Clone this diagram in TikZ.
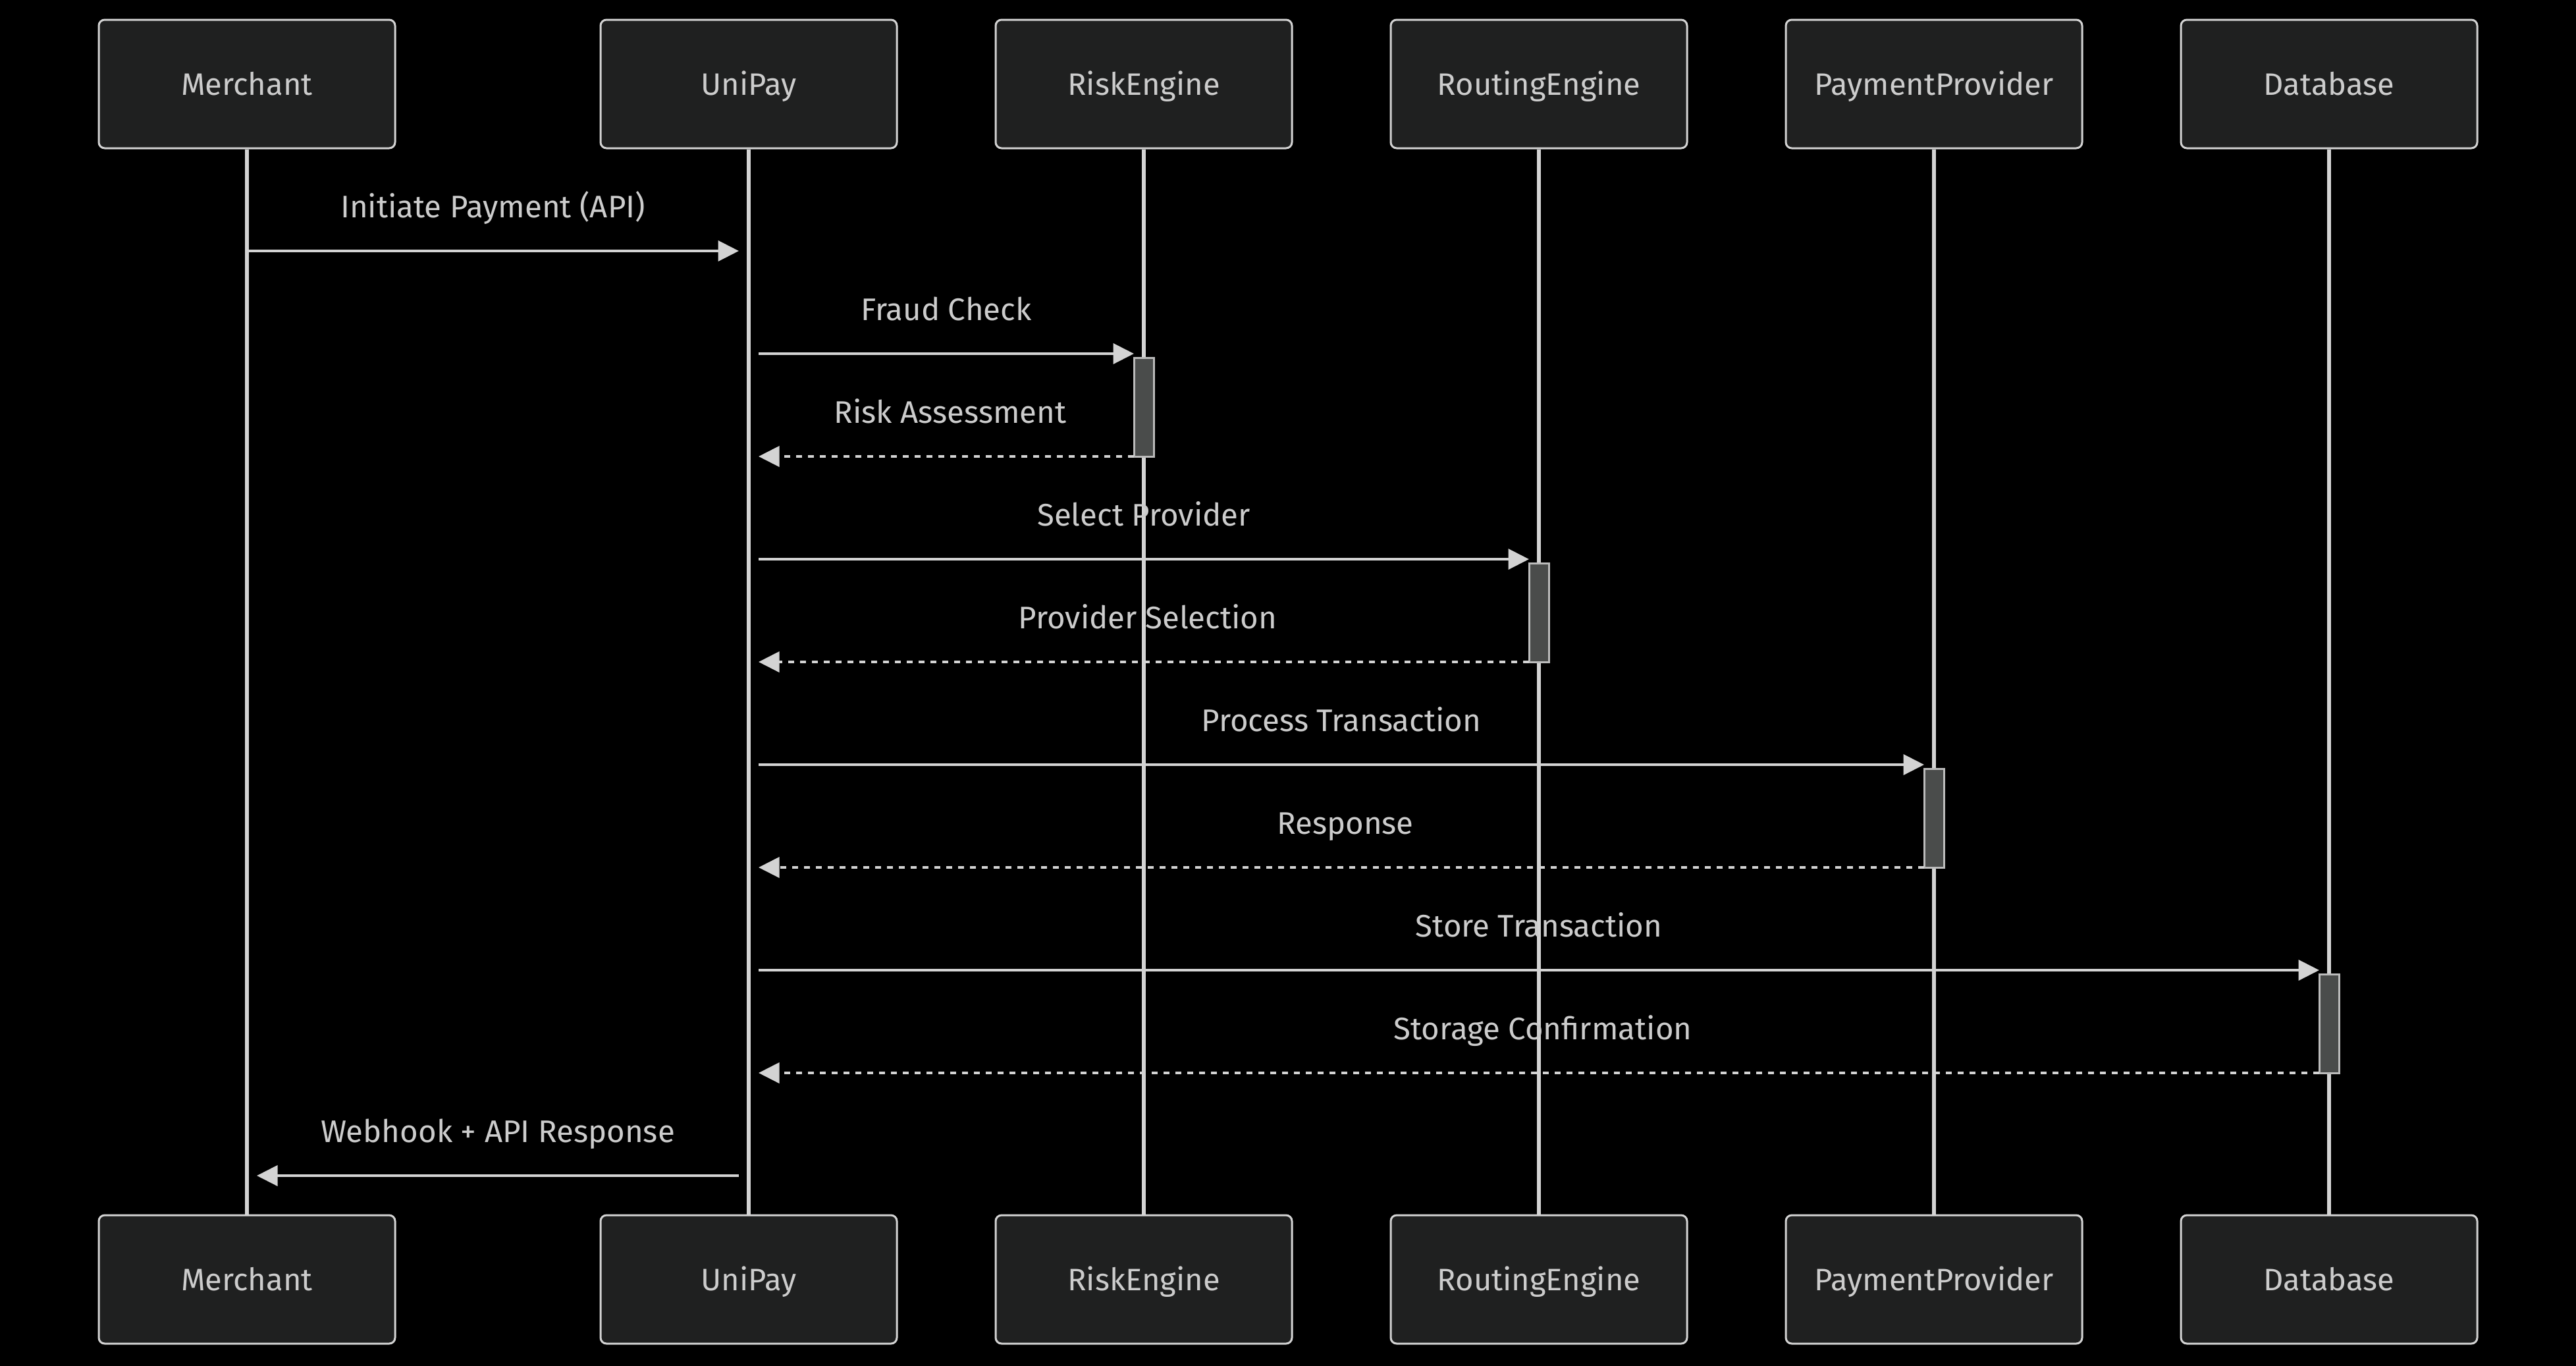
\documentclass[tikz,border=0pt]{standalone}
\usepackage{fontspec}
\setmainfont{Fira Sans}
\usetikzlibrary{arrows.meta}
\definecolor{bgcol}{HTML}{000000}
\definecolor{actorfill}{HTML}{1F2020}
\definecolor{linecol}{HTML}{D3D3D3}
\definecolor{textcol}{HTML}{CCCCCC}
\definecolor{actfill}{HTML}{4A4C4B}
\definecolor{actline}{HTML}{BBBBBB}
\tikzset{
  actorbox/.style={draw=linecol, line width=1pt, fill=actorfill, rounded corners=3pt,
    minimum width=150pt, minimum height=65pt, inner sep=0pt, text=textcol,
    font=\fontsize{15.7}{18}\selectfont, text height=11.6pt, text depth=0pt},
  lifeline/.style={draw=linecol, line width=1.7pt},
  msgline/.style={draw=linecol, line width=1.4pt, -{Triangle[length=10.5pt,width=10.3pt]}},
  replyline/.style={msgline, dash pattern=on 3pt off 3pt},
  msglabel/.style={text=textcol, font=\fontsize{15.8}{18}\selectfont, anchor=base,
    yshift=16.7pt, inner sep=0pt},
  activation/.style={draw=actline, line width=1pt, fill=actfill, minimum width=10pt,
    minimum height=50pt, inner sep=0pt}
}
\begin{document}
\begin{tikzpicture}[x=1pt, y=-1pt]
\useasboundingbox (0,0) rectangle (1304,691);
\fill[bgcol] (-4,-4) rectangle (1308,695);

% actors top
\node[actorbox] (merT) at (125,42.5) {Merchant};
\node[actorbox] (uniT) at (379,42.5) {UniPay};
\node[actorbox] (rskT) at (579,42.5) {RiskEngine};
\node[actorbox] (rteT) at (779,42.5) {RoutingEngine};
\node[actorbox] (ppT)  at (979,42.5) {PaymentProvider};
\node[actorbox] (dbT)  at (1179,42.5) {Database};
% actors bottom
\node[actorbox] (merB) at (125,647.5) {Merchant};
\node[actorbox] (uniB) at (379,647.5) {UniPay};
\node[actorbox] (rskB) at (579,647.5) {RiskEngine};
\node[actorbox] (rteB) at (779,647.5) {RoutingEngine};
\node[actorbox] (ppB)  at (979,647.5) {PaymentProvider};
\node[actorbox] (dbB)  at (1179,647.5) {Database};

% lifelines
\draw[lifeline] (merT.south) -- (merB.north);
\draw[lifeline] (uniT.south) -- (uniB.north);
\draw[lifeline] (rskT.south) -- (rskB.north);
\draw[lifeline] (rteT.south) -- (rteB.north);
\draw[lifeline] (ppT.south) -- (ppB.north);
\draw[lifeline] (dbT.south) -- (dbB.north);

% activations
\node[activation] (actR) at (579,206) {};
\node[activation] (actRt) at (779,310) {};
\node[activation] (actP) at (979,414) {};
\node[activation] (actD) at (1179,518) {};

% message end points
\coordinate (m1a) at (125,127);  \coordinate (m1b) at (374,127);
\coordinate (m2a) at (384,179);  \coordinate (m2b) at (574,179);
\coordinate (m3a) at (574,231);  \coordinate (m3b) at (384,231);
\coordinate (m4a) at (384,283);  \coordinate (m4b) at (774,283);
\coordinate (m5a) at (774,335);  \coordinate (m5b) at (384,335);
\coordinate (m6a) at (384,387);  \coordinate (m6b) at (974,387);
\coordinate (m7a) at (974,439);  \coordinate (m7b) at (384,439);
\coordinate (m8a) at (384,491);  \coordinate (m8b) at (1174,491);
\coordinate (m9a) at (1174,543); \coordinate (m9b) at (384,543);
\coordinate (m10a) at (374,595); \coordinate (m10b) at (130,595);

% messages
\draw[msgline] (m1a) -- node[msglabel] {Initiate Payment (API)} (m1b);
\draw[msgline] (m2a) -- node[msglabel] {Fraud Check} (m2b);
\draw[replyline] (m3a) -- node[msglabel, xshift=2pt] {Risk Assessment} (m3b);
\draw[msgline] (m4a) -- node[msglabel] {Select Provider} (m4b);
\draw[replyline] (m5a) -- node[msglabel, xshift=2pt] {Provider Selection} (m5b);
\draw[msgline] (m6a) -- node[msglabel] {Process Transaction} (m6b);
\draw[replyline] (m7a) -- node[msglabel, xshift=2pt] {Response} (m7b);
\draw[msgline] (m8a) -- node[msglabel] {Store Transaction} (m8b);
\draw[replyline] (m9a) -- node[msglabel, xshift=2pt] {Storage Confirmation} (m9b);
\draw[msgline] (m10a) -- node[msglabel] {Webhook + API Response} (m10b);
\end{tikzpicture}
\end{document}
